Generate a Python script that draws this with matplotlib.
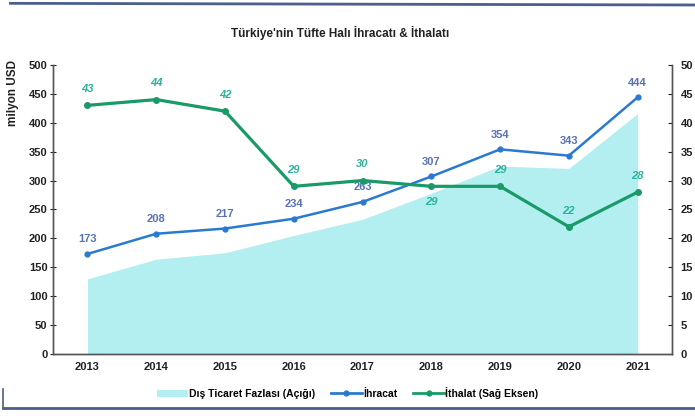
import matplotlib.pyplot as plt
from matplotlib.lines import Line2D
from matplotlib.patches import Patch

plt.rcParams['font.family'] = ['Liberation Sans Narrow', 'Liberation Sans', 'DejaVu Sans']

years = ['2013', '2014', '2015', '2016', '2017', '2018', '2019', '2020', '2021']
ihracat = [173, 208, 217, 234, 263, 307, 354, 343, 444]
ithalat = [43, 44, 42, 29, 30, 29, 29, 22, 28]
fazla = [i - t for i, t in zip(ihracat, ithalat)]

c_area = '#b3eef1'
c_blue = '#2a7ad0'
c_blue_lbl = '#5a72b4'
c_green = '#1a9a68'
c_green_lbl = '#2bb39c'

fig = plt.figure(figsize=(6.95, 4.16), dpi=100)
ax = fig.add_axes([0.0763, 0.149, 0.8907, 0.695])
ax2 = ax.twinx()

x = list(range(len(years)))
ax.fill_between(x, 0, fazla, color=c_area, lw=0, zorder=1)
ax.plot(x, ihracat, color=c_blue, lw=1.8, marker='o', ms=3.5, zorder=3)
ax2.plot(x, ithalat, color=c_green, lw=2.3, marker='o', ms=4, zorder=3)

for i, v in enumerate(ihracat):
    ax.annotate(str(v), (i, v), xytext=(0, 7), textcoords='offset points',
                ha='center', va='bottom', fontsize=8, fontweight='bold', color=c_blue_lbl)
for i, v in enumerate(ithalat):
    off = -15 if i == 5 else 8
    ax2.annotate(str(v), (i, v), xytext=(0, off), textcoords='offset points',
                 ha='center', va='bottom', fontsize=8, fontweight='bold',
                 fontstyle='italic', color=c_green_lbl)

ax.set_xlim(-0.5, 8.5)
ax.set_ylim(0, 500)
ax2.set_ylim(0, 50)
ax.set_yticks(range(0, 501, 50))
ax2.set_yticks(range(0, 51, 5))
ax.set_xticks(x)
ax.set_xticklabels(years)

for a in (ax, ax2):
    a.spines['top'].set_visible(False)
    for s in a.spines.values():
        s.set_color('#555555')
        s.set_linewidth(1)
    for lbl in a.get_yticklabels() + a.get_xticklabels():
        lbl.set_fontweight('bold')
        lbl.set_fontsize(8)
ax.tick_params(axis='y', direction='inout', length=4, width=0.8, pad=2, colors='#222222')
ax2.tick_params(axis='y', direction='in', length=3, width=0.8, pad=6, colors='#222222')
ax.tick_params(axis='x', length=0, pad=6, colors='#222222')

fig.text(0.018, 0.776, 'milyon USD', rotation=90, ha='center', va='center',
         fontsize=8.5, fontweight='bold', color='#222222')
fig.text(0.49, 0.92, "Türkiye'nin Tüfte Halı İhracatı & İthalatı", ha='center', va='center',
         fontsize=8.5, fontweight='bold', color='#222222')

handles = [Patch(color=c_area, lw=0),
           Line2D([], [], color=c_blue, lw=2, marker='o', ms=3.5),
           Line2D([], [], color=c_green, lw=2, marker='o', ms=3.5)]
labels = ['Dış Ticaret Fazlası (Açığı)', 'İhracat', 'İthalat (Sağ Eksen)']
fig.legend(handles, labels, loc='center', bbox_to_anchor=(0.5, 0.055), ncol=3,
           frameon=False, handlelength=3, columnspacing=1.5, handletextpad=0.1,
           prop={'size': 7.5, 'weight': 'bold'})

# decorative frame lines
fig.add_artist(Line2D([0.015, 1.0], [0.992, 0.988], color='#4a5f8a', lw=2))
fig.add_artist(Line2D([0.005, 1.0], [0.02, 0.02], color='#4a5f8a', lw=2))
fig.add_artist(Line2D([0.005, 0.005], [0.02, 0.065], color='#4a5f8a', lw=1.2))

fig.savefig('out.png', dpi=100)
